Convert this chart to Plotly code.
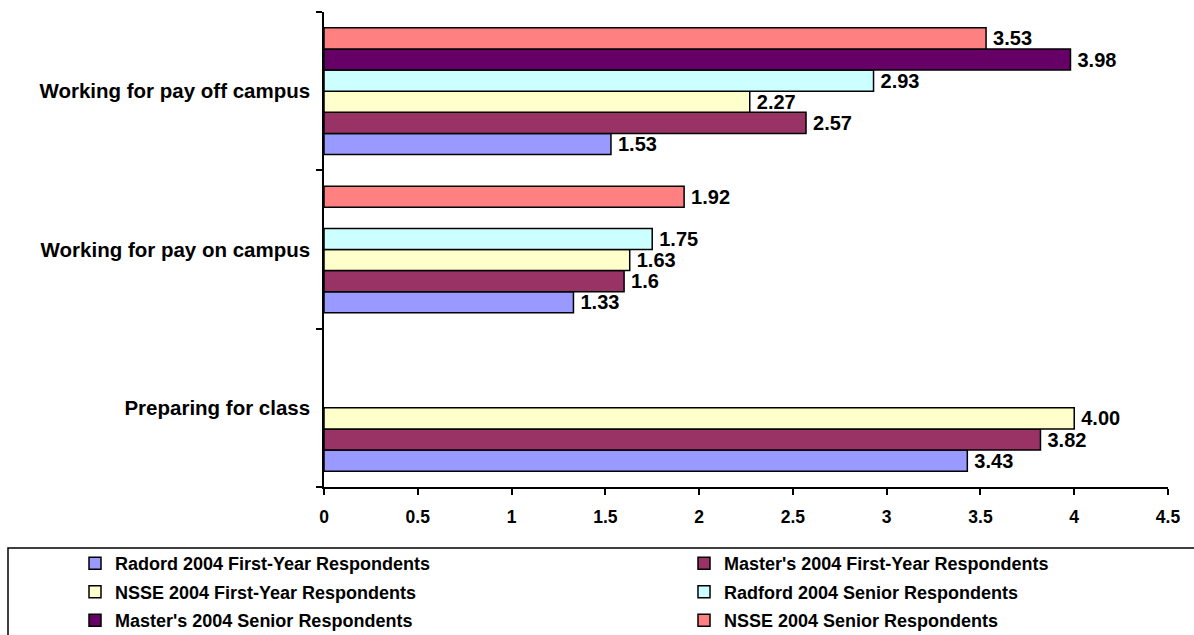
import plotly.graph_objects as go

categories = ["Preparing for class", "Working for pay on campus", "Working for pay off campus"]

series_names = [
    "Radord 2004 First-Year Respondents",
    "Master's 2004 First-Year Respondents",
    "NSSE 2004 First-Year Respondents",
    "Radford 2004 Senior Respondents",
    "Master's 2004 Senior Respondents",
    "NSSE 2004 Senior Respondents",
]

radford_fy = [3.43, 1.33, 1.53]
masters_fy = [3.82, 1.60, 2.57]
nsse_fy = [4.00, 1.63, 2.27]
radford_sr = [None, 1.75, 2.93]
masters_sr = [None, None, 3.98]
nsse_sr = [None, 1.92, 3.53]

radford_fy_labels = ["3.43", "1.33", "1.53"]
masters_fy_labels = ["3.82", "1.6", "2.57"]
nsse_fy_labels = ["4.00", "1.63", "2.27"]
radford_sr_labels = ["", "1.75", "2.93"]
masters_sr_labels = ["", "", "3.98"]
nsse_sr_labels = ["", "1.92", "3.53"]

x_ticks = [0, 0.5, 1, 1.5, 2, 2.5, 3, 3.5, 4, 4.5]
x_tick_labels = ["0", "0.5", "1", "1.5", "2", "2.5", "3", "3.5", "4", "4.5"]

colors = ["#9999FF", "#993366", "#FFFFCC", "#CCFFFF", "#660066", "#FF8080"]

values = [radford_fy, masters_fy, nsse_fy, radford_sr, masters_sr, nsse_sr]
labels = [radford_fy_labels, masters_fy_labels, nsse_fy_labels,
          radford_sr_labels, masters_sr_labels, nsse_sr_labels]

FONT = "Liberation Sans, Arial, sans-serif"

W, H = 1194, 635
L, R, T, B = 324, 26, 12, 148
pw, ph = W - L - R, H - T - B

def px_x(p):
    return (p - L) / pw

def px_y(p):
    return (H - B - p) / ph

legend_ids = ["legend" if i == 0 else "legend%d" % (i + 1) for i in range(6)]
col_x = [75, 684]
row_y = [545, 573.5, 602]

fig = go.Figure()
for i, (name, vals, labs, col, lg) in enumerate(zip(series_names, values, labels, colors, legend_ids)):
    fig.add_trace(go.Bar(
        y=categories, x=vals, name=name, orientation="h",
        legend=lg,
        marker=dict(color=col, line=dict(color="black", width=1.5)),
        text=[("\u2009" + t) if t else "" for t in labs],
        textposition="outside", constraintext="none",
        cliponaxis=False,
        textfont=dict(family=FONT, size=20, color="black", weight="bold"),
    ))

# legend border box
fig.add_shape(type="rect", xref="paper", yref="paper",
              x0=px_x(8), x1=px_x(1205), y0=px_y(548), y1=px_y(645),
              line=dict(color="black", width=1.5), fillcolor="rgba(0,0,0,0)",
              layer="above")

legend_common = dict(
    orientation="v", yanchor="top", xanchor="left",
    font=dict(family=FONT, size=18, color="black", weight="bold"),
    bgcolor="rgba(0,0,0,0)", borderwidth=0,
)

legends = {}
for i, lg in enumerate(legend_ids):
    legends[lg] = dict(x=px_x(col_x[i % 2]), y=px_y(row_y[i // 2]), **legend_common)

fig.update_layout(
    width=W, height=H,
    margin=dict(l=L, r=R, t=T, b=B, autoexpand=False),
    paper_bgcolor="white", plot_bgcolor="white",
    barmode="group", bargap=0.2, bargroupgap=0,
    showlegend=True,
    xaxis=dict(
        range=[0, 4.5], tickvals=x_ticks, ticktext=x_tick_labels,
        showgrid=False, zeroline=False, showline=True, linecolor="black", linewidth=1.5,
        ticks="outside", ticklen=6, tickwidth=1.5, tickcolor="black",
        ticklabelstandoff=7,
        tickfont=dict(family=FONT, size=17.5, color="black", weight="bold"),
    ),
    yaxis=dict(
        type="category", categoryorder="array", categoryarray=categories,
        range=[-0.5, 2.5],
        showgrid=False, zeroline=False, showline=True, linecolor="black", linewidth=1.5,
        ticks="outside", ticklen=6, tickwidth=1.5, tickcolor="black",
        tickson="boundaries", ticklabelstandoff=8,
        tickfont=dict(family=FONT, size=20.5, color="black", weight="bold"),
    ),
    **legends,
)

fig.write_html("out.html")
